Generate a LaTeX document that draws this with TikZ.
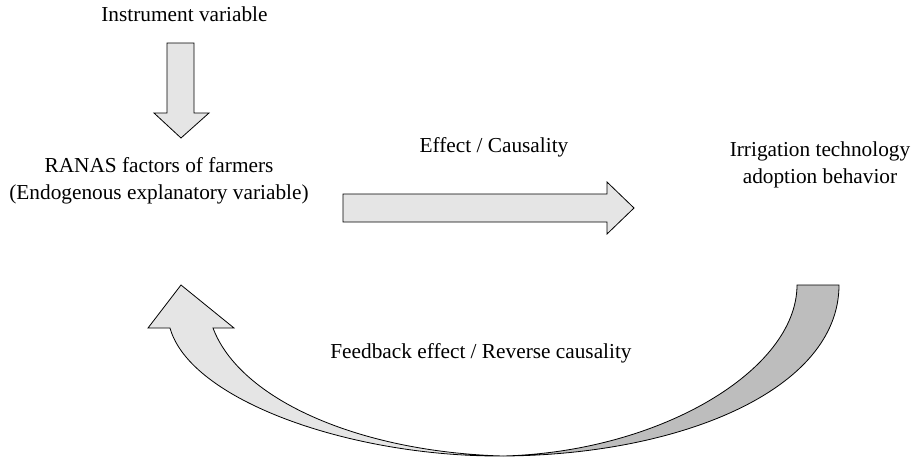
\documentclass[tikz,border=0pt]{standalone}
\usepackage{fontspec}
\setmainfont{Liberation Serif}
\begin{document}
\begin{tikzpicture}[x=1pt,y=-1pt,
  lbl/.style={font=\fontsize{21.3}{26.8}\selectfont, align=center, inner sep=0pt, anchor=base},
  blockfront/.style={draw=black, line width=0.8pt, fill=black!10, line join=miter},
  blockback/.style={draw=black, line width=0.8pt, fill=black!26, line join=miter}]
\useasboundingbox (0,0) rectangle (913,461);

% labels
\node[lbl] (iv) at (184.5,21) {Instrument variable};
\node[lbl] (ranas) at (159,199) {RANAS factors of farmers\\(Endogenous explanatory variable)};
\node[lbl] (eff) at (494,152) {Effect / Causality};
\node[lbl] (irr) at (820,183) {Irrigation technology\\adoption behavior};
\node[lbl] (fb) at (481,358) {Feedback effect / Reverse causality};

% instrument -> RANAS block arrow
\draw[blockfront] (167,43) -- (194,43) -- (194,113) -- (209,113) -- (181,138)
  -- (154,113) -- (167,113) -- cycle;

% RANAS -> adoption block arrow
\draw[blockfront] (343,194) -- (607,194) -- (607,182) -- (634,208) -- (607,234)
  -- (607,222) -- (343,222) -- cycle;

% feedback: curved block arrow, back face on the right
\draw[blockback] (797,285) -- (839,285)
  .. controls (839,390) and (680,455) .. (503,456)
  .. controls (660,452) and (797,370) .. (797,285) -- cycle;
% front face with the arrow head on the left
\draw[blockfront] (503,456)
  .. controls (350,457) and (190,400) .. (170,328)
  -- (148,328) -- (181,285) -- (234,328) -- (213,328)
  .. controls (240,400) and (360,452) .. (503,456) -- cycle;
\end{tikzpicture}
\end{document}
